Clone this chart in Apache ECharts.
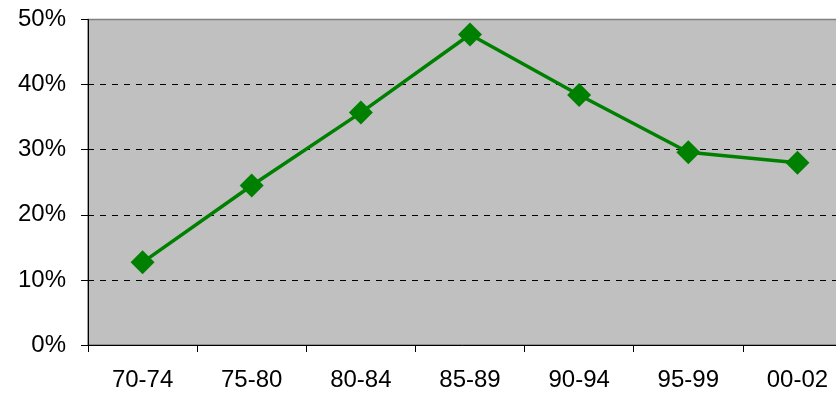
<!DOCTYPE html>
<html>
<head>
<meta charset="utf-8">
<style>
  html, body { margin: 0; padding: 0; background: #ffffff; }
  #chart { width: 836px; height: 395px; }
</style>
<script src="https://cdn.jsdelivr.net/npm/echarts@6/dist/echarts.min.js"></script>
</head>
<body>
<div id="chart"></div>
<script>
// Periods along the horizontal axis
const periods = ['70-74', '75-80', '80-84', '85-89', '90-94', '95-99', '00-02'];
// Share per period, in percent
const shares = [12.7, 24.5, 35.7, 47.7, 38.4, 29.6, 28.0];
// Vertical axis range and step, in percent
const yMin = 0;
const yMax = 50;
const yStep = 10;

const chart = echarts.init(document.getElementById('chart'), null, { renderer: 'canvas' });

const labelFont = {
  fontFamily: 'Liberation Sans, Arial, sans-serif',
  fontSize: 24,
  color: '#000000'
};

chart.setOption({
  animation: false,
  backgroundColor: '#ffffff',
  grid: {
    left: 88,
    top: 19.5,
    right: -16,
    height: 325.5,
    outerBoundsMode: 'none',
    containLabel: false,
    show: true,
    backgroundColor: '#C0C0C0',
    borderColor: '#808080',
    borderWidth: 1.5
  },
  xAxis: {
    type: 'category',
    data: periods,
    boundaryGap: true,
    axisLine: { show: true, lineStyle: { color: '#000000', width: 1 } },
    axisTick: { show: true, length: 7, interval: 0, lineStyle: { color: '#000000', width: 1 } },
    axisLabel: Object.assign({ margin: 23, interval: 0 }, labelFont),
    splitLine: { show: false }
  },
  yAxis: {
    type: 'value',
    min: yMin,
    max: yMax,
    interval: yStep,
    axisLine: { show: true, lineStyle: { color: '#000000', width: 1 } },
    axisTick: { show: true, length: 7, lineStyle: { color: '#000000', width: 1 } },
    axisLabel: Object.assign({ margin: 22, formatter: '{value}%' }, labelFont),
    splitLine: {
      show: true,
      showMinLine: false,
      showMaxLine: false,
      lineStyle: { color: '#000000', width: 1, type: [6, 6] }
    }
  },
  series: [{
    type: 'line',
    data: shares,
    symbol: 'diamond',
    symbolSize: [24, 24],
    lineStyle: { color: '#008000', width: 3.5 },
    itemStyle: { color: '#008000' },
    clip: false,
    z: 5
  }]
});
</script>
</body>
</html>
